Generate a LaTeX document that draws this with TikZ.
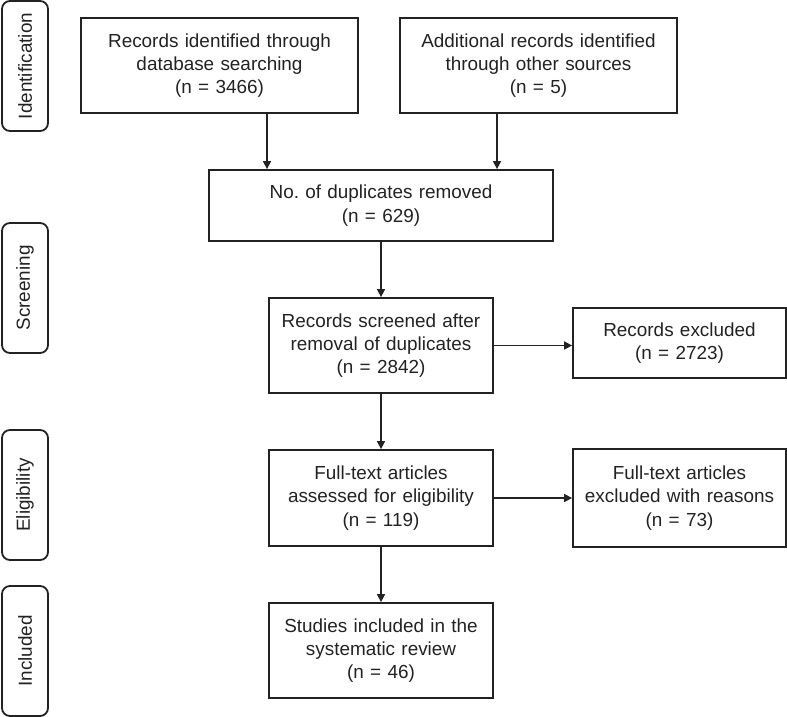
\documentclass[tikz,border=0pt]{standalone}
\usepackage{fontspec}
\setmainfont{Liberation Sans}
\usetikzlibrary{arrows.meta}
\definecolor{ink}{HTML}{222222}
\frenchspacing
\begin{document}
\begin{tikzpicture}[x=1pt,y=-1pt,
  font=\fontsize{18.9}{23.3}\selectfont,
  box/.style={draw=ink,line width=1.8pt,inner sep=0pt,align=center,text=ink},
  side/.style={draw=ink,line width=1.8pt,rounded corners=8pt,rotate=90,inner sep=0pt,
    minimum width=130pt,minimum height=46pt,text=ink},
  arr/.style={draw=ink,line width=1.6pt,-{Triangle[length=8pt,width=8pt]}}]
\useasboundingbox (0,0) rectangle (787,717);
% phase labels
\node[side] (sid) at (25,66) {Identification};
\node[side] (ssc) at (25,288) {Screening};
\node[side] (sel) at (25,495) {Eligibility};
\node[side] (sin) at (25,651) {Included};
% boxes
\node[box,minimum width=277pt,minimum height=95pt,text width=260pt] (b1) at (219.5,65.5)
  {Records identified through\\database searching\\(n = 3466)};
\node[box,minimum width=277pt,minimum height=95pt,text width=260pt] (b2) at (538.5,65.5)
  {Additional records identified\\through other sources\\(n = 5)};
\node[box,minimum width=344pt,minimum height=71pt,text width=320pt] (dup) at (381,205.5)
  {No. of duplicates removed\\(n = 629)};
\node[box,minimum width=224pt,minimum height=95pt,text width=210pt] (scr) at (381,345.5)
  {Records screened after\\removal of duplicates\\(n = 2842)};
\node[box,minimum width=213pt,minimum height=70pt,text width=200pt] (exc) at (679.5,343)
  {Records excluded\\(n = 2723)};
\node[box,minimum width=224pt,minimum height=96pt,text width=210pt] (full) at (381,498)
  {Full-text articles\\assessed for eligibility\\(n = 119)};
\node[box,minimum width=213pt,minimum height=98pt,text width=200pt] (excr) at (679.5,498)
  {Full-text articles\\excluded with reasons\\(n = 73)};
\node[box,minimum width=224pt,minimum height=95pt,text width=210pt] (inc) at (381,650.5)
  {Studies included in the\\systematic review\\(n = 46)};
% connectors
\coordinate (xa) at (267,0);
\coordinate (xb) at (497,0);
\draw[arr] (b1.south -| xa) -- (dup.north -| xa);
\draw[arr] (b2.south -| xb) -- (dup.north -| xb);
\draw[arr] (dup.south -| scr.north) -- (scr.north);
\draw[arr] (scr.east) -- (scr.east -| exc.west);
\draw[arr] (scr.south) -- (full.north);
\draw[arr] (full.east) -- (excr.west);
\draw[arr] (full.south) -- (inc.north);
\end{tikzpicture}
\end{document}
